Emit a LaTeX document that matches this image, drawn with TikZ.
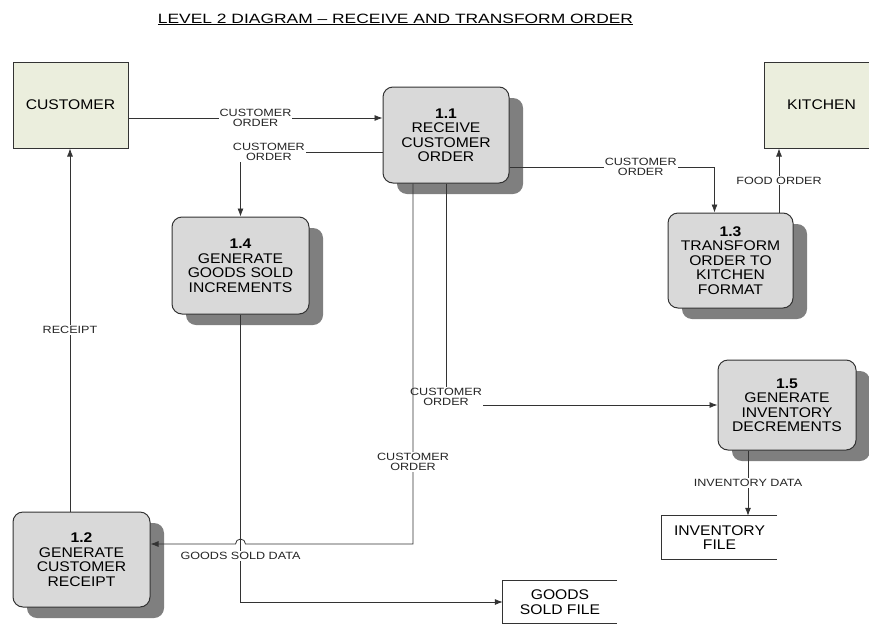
\documentclass[tikz,border=0pt]{standalone}
\usepackage{fontspec}
\setmainfont{Liberation Sans}
\newfontfamily\boxfont[FakeStretch=1.12]{Liberation Sans}
\newfontfamily\flowfont[FakeStretch=1.2]{Liberation Sans}
\newfontfamily\titlefont[FakeStretch=1.29]{Liberation Sans}
\usetikzlibrary{arrows.meta}
\usetikzlibrary{shadows}
\definecolor{entityfill}{HTML}{EBEEDD}
\definecolor{procfill}{HTML}{D9D9D9}
\definecolor{shadowgray}{HTML}{7F7F7F}
\definecolor{linegray}{HTML}{333333}

\begin{document}
\begin{tikzpicture}[x=1pt,y=-1pt,
    entity/.style={draw=linegray, line width=1pt, fill=entityfill,
        minimum width=115pt, minimum height=86pt, inner sep=0pt,
        font=\boxfont\fontsize{14}{14.5}\selectfont},
    process/.style={draw=linegray, line width=1pt, fill=procfill,
        rounded corners=10pt, inner sep=0pt, align=center,
        font=\boxfont\fontsize{14}{14.5}\selectfont,
        drop shadow={shadow xshift=14pt, shadow yshift=-11pt,
            fill=shadowgray, opacity=1}},
    store/.style={inner sep=0pt, align=center,
        font=\boxfont\fontsize{14}{14.5}\selectfont},
    storeline/.style={draw=linegray, line width=0.9pt},
    flow/.style={draw=linegray, line width=0.8pt,
        -{Latex[length=8pt,width=6pt]}},
    lbl/.style={fill=white, inner sep=1pt, align=center, text=black!85,
        font=\flowfont\fontsize{10.5}{10.5}\selectfont}]
        \useasboundingbox (0,0) rectangle (869,624);

        % Title
        \node[anchor=base, font=\titlefont\fontsize{13.5}{14}\selectfont]
            (title) at (395.5,23) {\underline{LEVEL 2 DIAGRAM – RECEIVE AND TRANSFORM ORDER}};

        % External entities
        \node[entity] (cust) at (70.5,105) {CUSTOMER};
        \node[entity] (kit)  at (821.5,105) {KITCHEN};

        % Processes
        \node[process, minimum width=126pt, minimum height=96pt] (p11) at (446,135)
            {\textbf{1.1}\\RECEIVE\\CUSTOMER\\ORDER};
        \node[process, minimum width=137pt, minimum height=95pt] (p12) at (81.5,559.5)
            {\textbf{1.2}\\GENERATE\\CUSTOMER\\RECEIPT};
        \node[process, minimum width=125pt, minimum height=95pt] (p13) at (730.5,260.5)
            {\textbf{1.3}\\TRANSFORM\\ORDER TO\\KITCHEN\\FORMAT};
        \node[process, minimum width=137pt, minimum height=97pt] (p14) at (240.5,265.5)
            {\textbf{1.4}\\GENERATE\\GOODS SOLD\\INCREMENTS};
        \node[process, minimum width=138pt, minimum height=90pt] (p15) at (787,405)
            {\textbf{1.5}\\GENERATE\\INVENTORY\\DECREMENTS};

        % Data stores
        \node[store, minimum width=115pt, minimum height=43pt] (inv) at (719.5,537.5)
            {INVENTORY\\FILE};
        \node[store, minimum width=114pt, minimum height=42pt] (gsf) at (560,602)
            {GOODS\\SOLD FILE};
        \draw[storeline] (inv.north east) -- (inv.north west) -- (inv.south west) -- (inv.south east);
        \draw[storeline] (gsf.north east) -- (gsf.north west) -- (gsf.south west) -- (gsf.south east);

        % Flows
        \draw[flow] ([yshift=-13pt]cust.east) -- ([yshift=-13pt]cust.east -| p11.west)
            node[lbl, midway] {CUSTOMER\\ORDER};
        \draw[flow] ([yshift=-17pt]p11.west) -| (p14.north)
            node[lbl, pos=0.4] {CUSTOMER\\ORDER};
        \draw[flow] ([yshift=-32pt]p11.east) -| ([xshift=-16pt]p13.north)
            node[lbl, pos=0.32] {CUSTOMER\\ORDER};
        \draw[flow] ([xshift=48.5pt]p13.north) -- ([xshift=48.5pt]p13.north |- kit.south)
            node[lbl, midway] {FOOD ORDER};
        \draw[flow] (p11.south) |- (p15.west)
            node[lbl, pos=0.5, yshift=8pt] {CUSTOMER\\ORDER};
        \coordinate (hop) at ([yshift=15.5pt]p12.east);
        \draw[flow] ([xshift=-33pt]p11.south) |- node[lbl, pos=0.386] {CUSTOMER\\ORDER}
            ([xshift=5pt]p14.south |- hop) arc[start angle=0, end angle=180, radius=5pt] -- (hop);
        \draw[flow] (p14.south) |- (gsf.west)
            node[lbl, pos=0.42] {GOODS SOLD DATA};
        \draw[flow] ([xshift=-11.5pt]p12.north) -- ([xshift=-11.5pt]p12.north |- cust.south)
            node[lbl, midway] {RECEIPT};
        \draw[flow] ([xshift=-39pt]p15.south) -- ([xshift=-39pt]p15.south |- inv.north)
            node[lbl, midway] {INVENTORY DATA};
    \end{tikzpicture}
\end{document}
